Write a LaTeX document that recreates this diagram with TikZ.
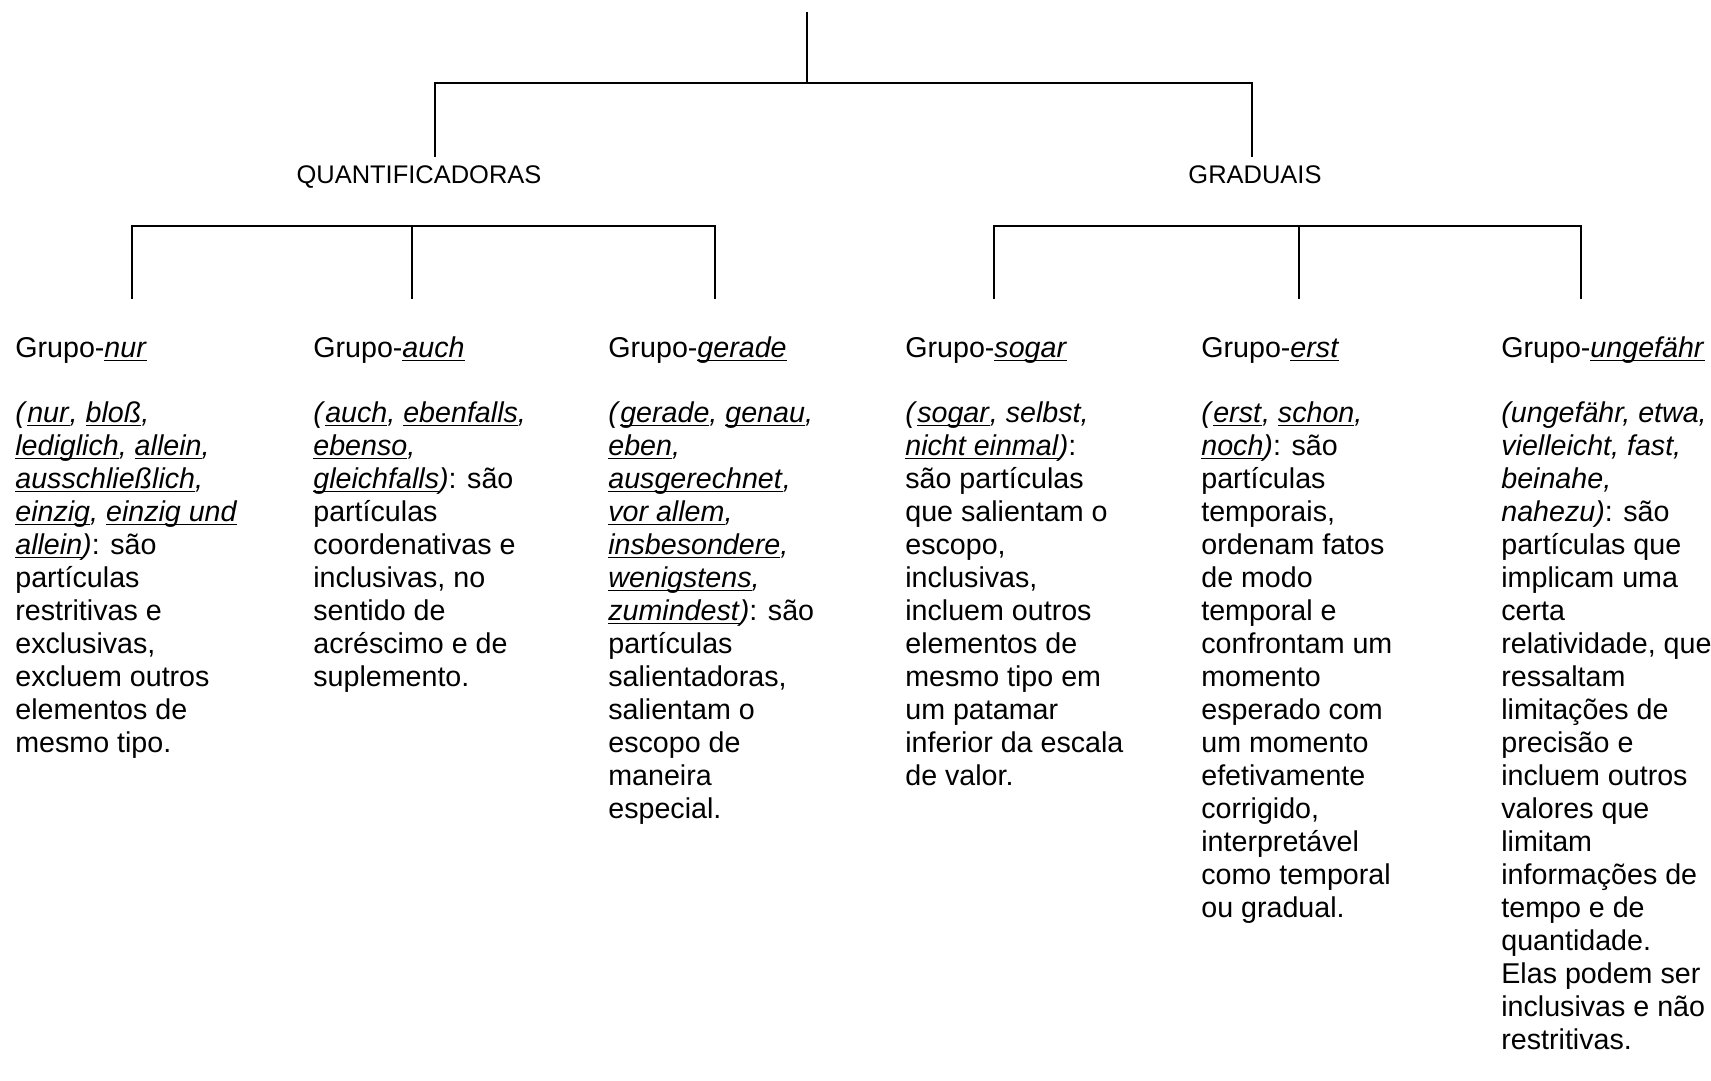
\documentclass[tikz,border=0pt]{standalone}
\usepackage{fontspec}
\setmainfont{Liberation Sans}
\usepackage{tikz}
\usetikzlibrary{positioning}

\newsavebox{\palbox}
\newcommand{\pal}[1]{\sbox{\palbox}{\textit{#1}}\rlap{\rule[-1.9pt]{\wd\palbox}{0.6pt}}\usebox{\palbox}}

\begin{document}
\begin{tikzpicture}[x=0.02cm, y=-0.02cm,
		ramo/.style={line width=0.9pt, line cap=rect},
		classe/.style={inner sep=0pt, anchor=base, font=\fontsize{14.5}{17}\selectfont},
		grupo/.style={inner sep=0pt, anchor=north west, align=left, font=\fontsize{16.3}{18.78}\selectfont},
		desc/.style={inner sep=0pt, anchor=north west, align=left, font=\fontsize{16.3}{18.78}\selectfont}]
				\useasboundingbox (0,0) rectangle (1711,1081);
				
				\coordinate (topo) at (807,13);
				\coordinate (raiz) at (807,83);
				\coordinate (rq) at (435,83);
				\coordinate (rg) at (1252,83);
				\coordinate (fq) at (435,156);
				\coordinate (fg) at (1252,156);
				
				\node[classe] (quant) at (419,184) {QUANTIFICADORAS};
				\node[classe] (grad) at (1255,184) {GRADUAIS};
				
				\coordinate (q1) at (132,226);
				\coordinate (q2) at (412,226);
				\coordinate (q3) at (715,226);
				\coordinate (g1) at (994,226);
				\coordinate (g2) at (1299,226);
				\coordinate (g3) at (1581,226);
				\coordinate (p1) at (132,298);
				\coordinate (p2) at (412,298);
				\coordinate (p3) at (715,298);
				\coordinate (p4) at (994,298);
				\coordinate (p5) at (1299,298);
				\coordinate (p6) at (1581,298);
				
				\node[grupo] (tnur) at (15,334) {\strut Grupo-\pal{nur}};
				\node[grupo] (tauch) at (313,334) {\strut Grupo-\pal{auch}};
				\node[grupo] (tgerade) at (608,334) {\strut Grupo-\pal{gerade}};
				\node[grupo] (tsogar) at (905,334) {\strut Grupo-\pal{sogar}};
				\node[grupo] (terst) at (1201,334) {\strut Grupo-\pal{erst}};
				\node[grupo] (tungefahr) at (1501,334) {\strut Grupo-\pal{ungefähr}};
				
				\node[desc] (bnur) at (15,399) {\strut\textit{(}\pal{nur}\textit{,} \pal{bloß}\textit{,}\\
					\pal{lediglich}\textit{,} \pal{allein}\textit{,}\\
					\pal{ausschließlich}\textit{,}\\
					\pal{einzig}\textit{,} \pal{einzig und}\\
					\pal{allein}\textit{)}: são\\
					partículas\\ restritivas e\\ exclusivas,\\ excluem outros\\ elementos de\\ mesmo tipo.};
				\node[desc] (bauch) at (313,399) {\strut\textit{(}\pal{auch}\textit{,} \pal{ebenfalls}\textit{,}\\
					\pal{ebenso}\textit{,}\\
					\pal{gleichfalls}\textit{)}: são\\
					partículas\\ coordenativas e\\ inclusivas, no\\ sentido de\\ acréscimo e de\\ suplemento.};
				\node[desc] (bgerade) at (608,399) {\strut\textit{(}\pal{gerade}\textit{,} \pal{genau}\textit{,}\\
					\pal{eben}\textit{,}\\
					\pal{ausgerechnet}\textit{,}\\
					\pal{vor allem}\textit{,}\\
					\pal{insbesondere}\textit{,}\\
					\pal{wenigstens}\textit{,}\\
					\pal{zumindest}\textit{)}: são\\
					partículas\\ salientadoras,\\ salientam o\\ escopo de\\ maneira\\ especial.};
				\node[desc] (bsogar) at (905,399) {\strut\textit{(}\pal{sogar}\textit{, selbst,}\\
					\pal{nicht einmal}\textit{)}:\\
					são partículas\\ que salientam o\\ escopo,\\ inclusivas,\\ incluem outros\\ elementos de\\ mesmo tipo em\\ um patamar\\ inferior da escala\\ de valor.};
				\node[desc] (berst) at (1201,399) {\strut\textit{(}\pal{erst}\textit{,} \pal{schon}\textit{,}\\
					\pal{noch}\textit{)}: são\\
					partículas\\ temporais,\\ ordenam fatos\\ de modo\\ temporal e\\ confrontam um\\ momento\\ esperado com\\ um momento\\ efetivamente\\ corrigido,\\ interpretável\\ como temporal\\ ou gradual.};
				\node[desc] (bungefahr) at (1501,399) {\strut\textit{(ungefähr, etwa,}\\
					\textit{vielleicht, fast,}\\
					\textit{beinahe,}\\
					\textit{nahezu)}: são\\
					partículas que\\ implicam uma\\ certa\\ relatividade, que\\ ressaltam\\ limitações de\\ precisão e\\ incluem outros\\ valores que\\ limitam\\ informações de\\ tempo e de\\ quantidade.\\ Elas podem ser\\ inclusivas e não\\ restritivas.};
				
				\draw[ramo] (topo) -- (raiz);
				\draw[ramo] (fq) -- (rq) -- (rg) -- (fg);
				\draw[ramo] (p1) -- (q1) -- (q3) -- (p3);
				\draw[ramo] (q2) -- (p2);
				\draw[ramo] (p4) -- (g1) -- (g3) -- (p6);
				\draw[ramo] (g2) -- (p5);
			\end{tikzpicture}
\end{document}
